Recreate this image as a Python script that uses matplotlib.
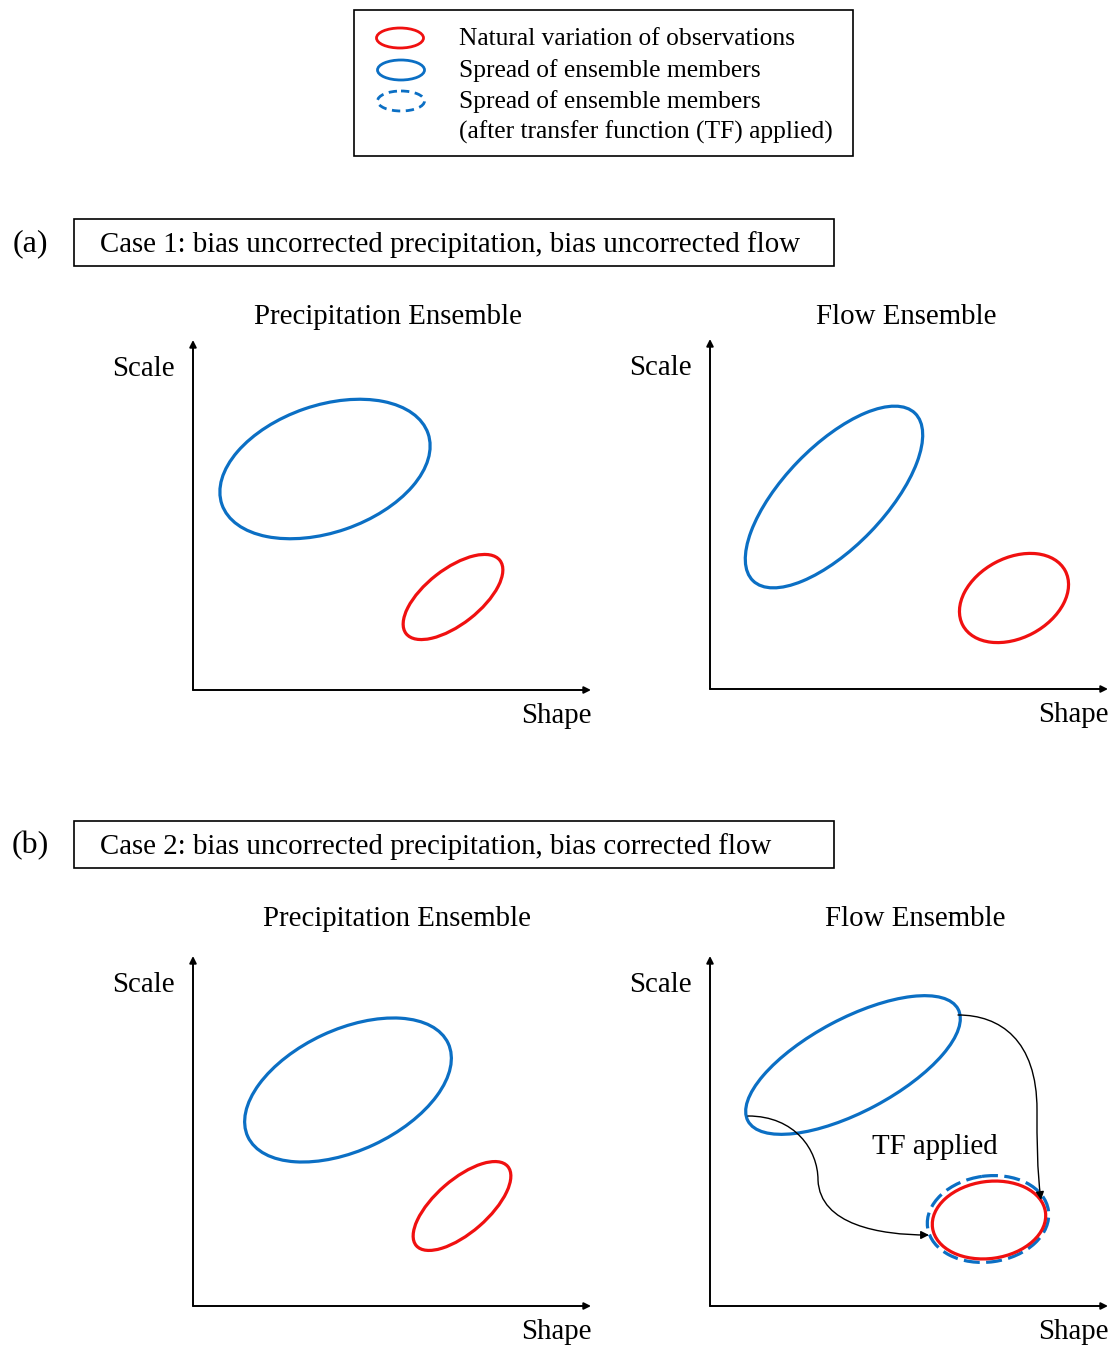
import matplotlib
matplotlib.use("Agg")
import matplotlib.pyplot as plt
from matplotlib.patches import Ellipse, Rectangle, FancyArrowPatch
from matplotlib.path import Path

plt.rcParams['font.family'] = ['Liberation Serif', 'DejaVu Serif']

W, H = 1111, 1345
BLUE = "#0B6FC4"
RED = "#F01010"

# legend entries
legend_labels = ["Natural variation of observations",
                 "Spread of ensemble members",
                 "Spread of ensemble members",
                 "(after transfer function (TF) applied)"]

# case headers
case_tags = ["(a)", "(b)"]
case_titles = ["Case 1: bias uncorrected precipitation, bias uncorrected flow",
               "Case 2: bias uncorrected precipitation, bias corrected flow"]
panel_titles = ["Precipitation Ensemble", "Flow Ensemble"]

# ellipses per panel: (cx, cy, width, height, tilt in degrees)
ens_a_precip = (325, 469, 218, 127, 19)
obs_a_precip = (453, 597, 119, 55, 38)
ens_a_flow = (834, 497, 233, 101, 46)
obs_a_flow = (1014, 598, 116, 80, 28)
ens_b_precip = (348, 1090, 221, 121, 25)
obs_b_precip = (462, 1206, 121, 53, 41)
ens_b_flow = (853, 1065, 238, 93, 28)
obs_b_flow = (989, 1220, 114, 77, 8)
tf_b_flow = (988, 1219, 122, 86, 8)

# axes origins (x, y) and extents
origins = [(193, 690), (710, 689), (193, 1306), (710, 1306)]
x_len, y_len = 398, 350

# transfer-function arrows (control points of cubic Bezier chains)
tf_arrow_1 = [(958, 1015), (1000, 1015), (1037, 1040), (1037, 1110),
              (1037, 1140), (1037, 1170), (1041, 1200)]
tf_arrow_2 = [(748, 1116), (795, 1116), (818, 1150), (818, 1180),
              (820, 1225), (880, 1235), (929, 1235)]

FS = 20.8

fig = plt.figure(figsize=(W / 100, H / 100), dpi=100)
ax = fig.add_axes([0, 0, 1, 1])
ax.set_xlim(0, W)
ax.set_ylim(H, 0)
ax.axis("off")


def ellipse(spec, color, ls="-", lw=2.3):
    cx, cy, w, h, ang = spec
    ax.add_patch(Ellipse((cx, cy), w, h, angle=-ang, fill=False,
                         edgecolor=color, linewidth=lw, linestyle=ls))


# legend box
ax.add_patch(Rectangle((354, 10), 499, 146, fill=False, edgecolor="black", linewidth=1.2))
ellipse((400, 38, 47, 20, 0), RED, lw=2.0)
ellipse((401, 70, 47, 20, 0), BLUE, lw=2.0)
ellipse((401, 101, 47, 20, 0), BLUE, ls=(0, (3, 2)), lw=2.0)
for lab, y in zip(legend_labels, [38, 70, 101, 131]):
    ax.text(459, y + 1, lab, fontsize=18.4, va="center", ha="left")

# case headers
for tag, title, y in zip(case_tags, case_titles, [243, 845]):
    ax.add_patch(Rectangle((74, y - 24), 760, 47, fill=False, edgecolor="black", linewidth=1.2))
    ax.text(100, y + 2, title, fontsize=FS, va="center", ha="left")
    ax.text(30, y + 1, tag, fontsize=23, va="center", ha="center")

# panel titles
for (cx, cy), title in zip([(388, 315), (906, 315), (397, 917), (915, 917)],
                           panel_titles * 2):
    ax.text(cx, cy + 2, title, fontsize=FS, va="center", ha="center")

# panel axes
for ox, oy in origins:
    ax.add_patch(FancyArrowPatch((ox, oy), (ox, oy - y_len), arrowstyle="-|>",
                                 mutation_scale=10, color="black", linewidth=1.4,
                                 shrinkA=0, shrinkB=0))
    ax.add_patch(FancyArrowPatch((ox, oy), (ox + x_len, oy), arrowstyle="-|>",
                                 mutation_scale=10, color="black", linewidth=1.4,
                                 shrinkA=0, shrinkB=0))
    ax.text(ox - 50, 1 + oy - 322, "Scale", fontsize=FS, va="center", ha="center")
    ax.text(ox + 363, oy + 26, "Shape", fontsize=FS, va="center", ha="center")

# ellipses
ellipse(ens_a_precip, BLUE)
ellipse(obs_a_precip, RED)
ellipse(ens_a_flow, BLUE)
ellipse(obs_a_flow, RED)
ellipse(ens_b_precip, BLUE)
ellipse(obs_b_precip, RED)
ellipse(ens_b_flow, BLUE)
ellipse(tf_b_flow, BLUE, ls=(0, (5, 2)))
ellipse(obs_b_flow, RED)

# transfer-function arrows
for pts in (tf_arrow_1, tf_arrow_2):
    codes = [Path.MOVETO] + [Path.CURVE4] * (len(pts) - 1)
    ax.add_patch(FancyArrowPatch(path=Path(pts, codes), arrowstyle="-|>",
                                 mutation_scale=12, color="black", linewidth=1.0))

ax.text(935, 1147, "TF applied", fontsize=FS, va="center", ha="center")

fig.savefig("out.png", dpi=100)
